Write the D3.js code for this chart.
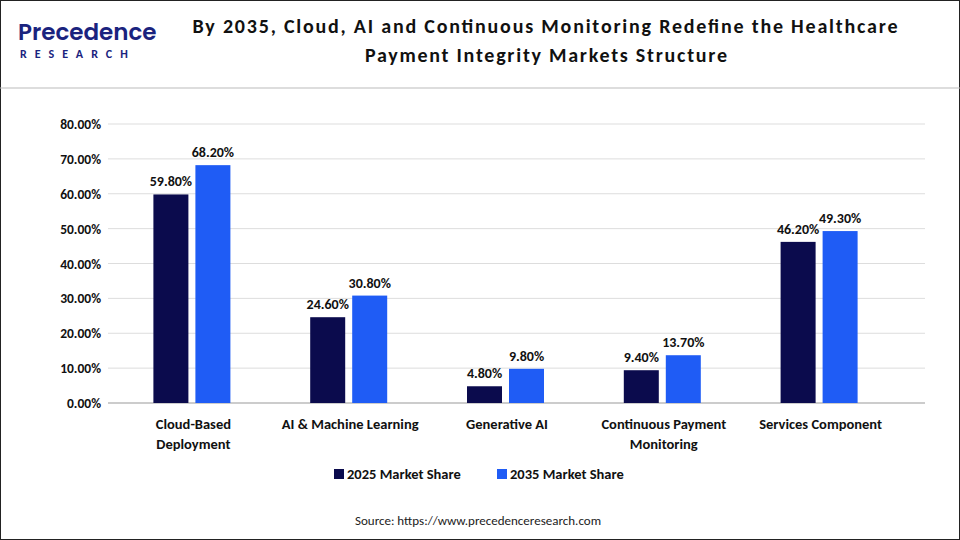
<!DOCTYPE html>
<html><head><meta charset="utf-8">
<script src="https://cdn.jsdelivr.net/npm/d3@7"></script>
<style>body{margin:0;background:#fff}svg{font-family:Calibri,"Open Sans",Arial,sans-serif}</style>
</head><body><svg width="960" height="540"></svg>
<script>
var categories = [["Cloud-Based", "Deployment"], ["AI & Machine Learning"], ["Generative AI"], ["Continuous Payment", "Monitoring"], ["Services Component"]],
    series = ["2025 Market Share", "2035 Market Share"],
    values2025 = [59.8, 24.6, 4.8, 9.4, 46.2],
    values2035 = [68.2, 30.8, 9.8, 13.7, 49.3],
    ticks = [0, 10, 20, 30, 40, 50, 60, 70, 80],
    colors = ["#0b0b4d", "#1f5cf5"];

var svg = d3.select("svg");
svg.append("rect").attr("x", 0.5).attr("y", 0.5).attr("width", 959).attr("height", 539)
    .attr("fill", "none").attr("stroke", "#222");
svg.append("line").attr("x1", 0).attr("x2", 960).attr("y1", 88).attr("y2", 88).attr("stroke", "#bbb");

// logo
var logo = svg.append("g");
logo.append("text").attr("x", 18).attr("y", 40).attr("font-size", 23).attr("font-weight", 600)
    .attr("fill", "#1a237e").attr("font-family", "Poppins,Lato,sans-serif").text("Precedence");
logo.append("text").attr("x", 20).attr("y", 58).attr("font-size", 12).attr("font-weight", 700)
    .attr("fill", "#1a237e").attr("letter-spacing", 8).text("RESEARCH");

var title = svg.append("text").attr("text-anchor", "middle").attr("font-size", 20)
    .attr("font-weight", 700).attr("fill", "#111");
title.append("tspan").attr("x", 545).attr("y", 33).attr("textLength", 705)
    .text("By 2035, Cloud, AI and Continuous Monitoring Redefine the Healthcare");
title.append("tspan").attr("x", 546).attr("y", 62).attr("textLength", 362)
    .text("Payment Integrity Markets Structure");

var x = d3.scaleBand().domain(d3.range(categories.length)).range([115, 899]);
var y = d3.scaleLinear().domain([0, 80]).range([403, 124]);
var bw = 35;

var grid = svg.append("g");
ticks.forEach(function (t) {
    grid.append("line").attr("x1", 108).attr("x2", 925).attr("y1", y(t)).attr("y2", y(t))
        .attr("stroke", t === 0 ? "#999" : "#ddd");
    grid.append("text").attr("x", 101).attr("y", y(t) + 5).attr("text-anchor", "end")
        .attr("font-size", 13.5).attr("font-weight", 700).attr("fill", "#111").text(t.toFixed(2) + "%");
});

[values2025, values2035].forEach(function (vals, s) {
    var g = svg.append("g");
    vals.forEach(function (v, i) {
        var cx = x(i) + x.bandwidth() / 2, bx = s === 0 ? cx - bw - 5 : cx + 2;
        g.append("rect").attr("x", bx).attr("y", y(v)).attr("width", bw).attr("height", y(0) - y(v))
            .attr("fill", colors[s]);
        g.append("text").attr("x", bx + bw / 2).attr("y", y(v) - 8).attr("text-anchor", "middle")
            .attr("font-size", 14).attr("font-weight", 700).attr("fill", "#111").text(v.toFixed(2) + "%");
    });
});

categories.forEach(function (c, i) {
    var t = svg.append("text").attr("text-anchor", "middle").attr("font-size", 14.5)
        .attr("font-weight", 700).attr("fill", "#111");
    c.forEach(function (line, j) {
        t.append("tspan").attr("x", x(i) + x.bandwidth() / 2).attr("y", 429 + j * 20).text(line);
    });
});

var leg = svg.append("g");
[[334, 0], [497, 1]].forEach(function (d) {
    leg.append("rect").attr("x", d[0]).attr("y", 469).attr("width", 10).attr("height", 10).attr("fill", colors[d[1]]);
    leg.append("text").attr("x", d[0] + 13).attr("y", 479).attr("font-size", 14.5).attr("font-weight", 700)
        .attr("fill", "#111").text(series[d[1]]);
});

svg.append("text").attr("x", 478).attr("y", 525).attr("text-anchor", "middle").attr("font-size", 13)
    .attr("fill", "#222").text("Source: https://www.precedenceresearch.com");
</script></body></html>
